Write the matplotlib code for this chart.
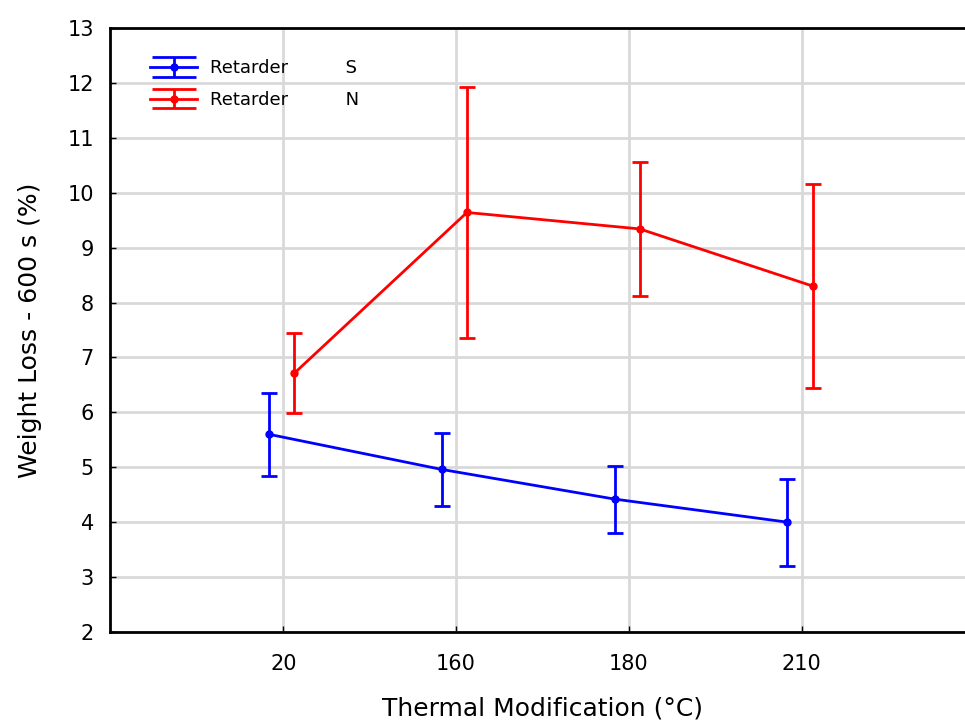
import numpy as np
import matplotlib
matplotlib.use("Agg")
import matplotlib.pyplot as plt
from matplotlib.legend_handler import HandlerErrorbar

categories = ["20", "160", "180", "210"]
s_mean = [5.60, 4.96, 4.42, 4.00]
s_err = [0.76, 0.66, 0.61, 0.79]
n_mean = [6.71, 9.64, 9.34, 8.30]
n_err = [0.73, 2.29, 1.22, 1.85]

fig = plt.figure(figsize=(9.65, 7.28), dpi=100)
ax = fig.add_axes([0.1145, 0.1319, 0.8953, 0.8297])

x = np.arange(1, len(categories) + 1)

ax.errorbar(x - 0.083, s_mean, yerr=s_err, color="#0000ff", lw=2, elinewidth=2,
            capsize=6, capthick=2, marker="o", ms=5, zorder=3)
ax.errorbar(x + 0.063, n_mean, yerr=n_err, color="#ff0000", lw=2, elinewidth=2,
            capsize=6, capthick=2, marker="o", ms=5, zorder=3)

# legend proxies with wide caps (one point outside the visible range)
h_s = ax.errorbar([-10], [5], yerr=[1], color="#0000ff", lw=2, elinewidth=2,
                  capsize=16, capthick=2, marker="o", ms=5)
h_n = ax.errorbar([-10], [5], yerr=[1], color="#ff0000", lw=2, elinewidth=2,
                  capsize=16, capthick=2, marker="o", ms=5)

ax.set_xlim(0, 5)
ax.set_ylim(2, 13)
ax.set_xticks(x)
ax.set_xticklabels(categories)
ax.set_yticks(range(2, 14))
ax.grid(True, color="#d9d9d9", lw=2)
ax.set_axisbelow(True)
ax.tick_params(direction="in", length=4, width=1, labelsize=15, pad=12)
ax.tick_params(axis="x", pad=16)

for side in ["left", "bottom", "top"]:
    ax.spines[side].set_linewidth(2)
ax.spines["right"].set_visible(False)

ax.set_xlabel("Thermal Modification (°C)", fontsize=18, labelpad=16)
ax.set_ylabel("Weight Loss - 600 s (%)", fontsize=18, labelpad=18)

ax.legend([h_s, h_n], ["Retarder          S", "Retarder          N"],
          loc="upper left", bbox_to_anchor=(0.027, 0.975), frameon=False,
          fontsize=13, handlelength=2.6, handletextpad=0.7, labelspacing=0.75,
          handler_map={type(h_s): HandlerErrorbar(yerr_size=0.55)})

plt.savefig("out.png", dpi=100)
